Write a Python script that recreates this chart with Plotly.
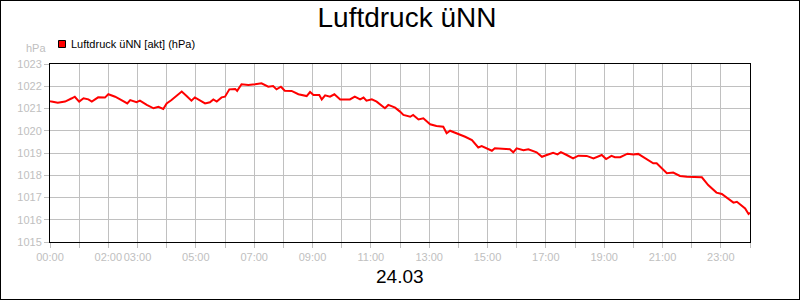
import plotly.graph_objects as go

# ---- data (minutes after midnight, 24.03) ----
minutes = [0, 3, 16, 31, 45, 51, 60, 69, 79, 86, 99, 113, 120, 134, 147, 159, 165, 178, 185, 199,
           213, 223, 233, 240, 250, 257, 271, 281, 291, 298, 309, 319, 329, 336, 343, 353, 360, 369,
           381, 385, 394, 408, 422, 435, 449, 459, 466, 475, 483, 497, 511, 528, 535, 542, 554, 559,
           566, 576, 585, 597, 617, 627, 638, 645, 651, 662, 672, 679, 689, 696, 710, 720, 727, 741,
           747, 758, 768, 782, 795, 809, 816, 823, 837, 854, 868, 881, 888, 902, 909, 915, 932, 946,
           953, 960, 974, 984, 1001, 1012, 1022, 1035, 1044, 1051, 1063, 1076, 1087, 1104, 1118, 1128,
           1135, 1144, 1155, 1162, 1173, 1188, 1200, 1210, 1221, 1231, 1241, 1248, 1258, 1269, 1282,
           1296, 1310, 1323, 1341, 1354, 1371, 1382, 1395, 1406, 1413, 1423, 1430, 1437, 1440]
pressure = [1021.33, 1021.31, 1021.26, 1021.31, 1021.46, 1021.53, 1021.31, 1021.46, 1021.41, 1021.31,
            1021.50, 1021.49, 1021.64, 1021.53, 1021.38, 1021.23, 1021.38, 1021.28, 1021.35, 1021.16,
            1021.01, 1021.08, 1020.98, 1021.23, 1021.38, 1021.50, 1021.76, 1021.56, 1021.35, 1021.50,
            1021.35, 1021.23, 1021.28, 1021.41, 1021.31, 1021.50, 1021.53, 1021.86, 1021.88, 1021.79,
            1022.09, 1022.06, 1022.09, 1022.13, 1021.98, 1022.01, 1021.86, 1021.98, 1021.80, 1021.79,
            1021.64, 1021.56, 1021.74, 1021.61, 1021.61, 1021.41, 1021.59, 1021.53, 1021.64, 1021.41,
            1021.41, 1021.53, 1021.41, 1021.49, 1021.35, 1021.41, 1021.31, 1021.20, 1021.01, 1021.16,
            1021.04, 1020.86, 1020.71, 1020.63, 1020.71, 1020.51, 1020.56, 1020.29, 1020.21, 1020.18,
            1019.89, 1020.00, 1019.89, 1019.73, 1019.58, 1019.25, 1019.31, 1019.17, 1019.10, 1019.21,
            1019.17, 1019.17, 1019.03, 1019.21, 1019.13, 1019.17, 1019.03, 1018.83, 1018.91, 1019.01,
            1018.94, 1019.04, 1018.91, 1018.76, 1018.88, 1018.87, 1018.76, 1018.87, 1018.91, 1018.73,
            1018.87, 1018.81, 1018.81, 1018.97, 1018.93, 1018.96, 1018.81, 1018.66, 1018.54, 1018.54,
            1018.31, 1018.09, 1018.12, 1017.97, 1017.93, 1017.93, 1017.91, 1017.56, 1017.22, 1017.16,
            1016.96, 1016.77, 1016.81, 1016.62, 1016.51, 1016.26, 1016.32]

hour_ticks = list(range(0, 25))
labeled_hours = [0, 2, 3, 5, 7, 9, 11, 13, 15, 17, 19, 21, 23]
hour_labels = [f"{h:02d}:00" if h in labeled_hours else "" for h in hour_ticks]
y_ticks = list(range(1015, 1024))

title_text = "Luftdruck üNN"
series_name = "Luftdruck üNN [akt] (hPa)"
unit_text = "hPa"
date_text = "24.03"

hours = [m / 60 for m in minutes]

GRAY = "#c0c0c0"
FONT = "Liberation Sans, Arial, sans-serif"

fig = go.Figure()
fig.add_trace(go.Scatter(x=hours, y=pressure, mode="lines",
                         line=dict(color="#ff0000", width=2),
                         name=series_name, showlegend=False))

W, H = 800, 300
L, R, T, B = 50, 50, 64, 58
pw, ph = W - L - R, H - T - B

def px_x(p):
    return (p - L) / pw

def px_y(p):
    return (H - B - p) / ph

fig.update_layout(
    width=W, height=H,
    margin=dict(l=L, r=R, t=T, b=B, pad=0),
    paper_bgcolor="white", plot_bgcolor="white",
    font=dict(family=FONT, size=11, color=GRAY),
    title=dict(text=title_text, x=407 / W, xanchor="center",
               y=1 - 17 / H, yanchor="middle",
               font=dict(family=FONT, size=28, color="black")),
    showlegend=False,
    xaxis=dict(range=[0, 24], tickmode="array", tickvals=hour_ticks, ticktext=hour_labels,
               showgrid=True, gridcolor=GRAY, gridwidth=1,
               ticks="outside", ticklen=5, tickcolor=GRAY, tickwidth=1,
               showline=True, linecolor="black", linewidth=1, mirror=True,
               zeroline=False, tickangle=0,
               tickfont=dict(family=FONT, size=11, color=GRAY)),
    yaxis=dict(range=[1015, 1023], tickmode="array", tickvals=y_ticks,
               ticktext=[str(v) for v in y_ticks],
               showgrid=True, gridcolor=GRAY, gridwidth=1,
               ticks="outside", ticklen=5, tickcolor=GRAY, tickwidth=1,
               showline=True, linecolor="black", linewidth=1, mirror=True,
               zeroline=False,
               tickfont=dict(family=FONT, size=11, color=GRAY)),
)

# outer frame around the whole picture
fig.add_shape(type="rect", xref="paper", yref="paper",
              x0=px_x(0), x1=px_x(W), y0=px_y(H), y1=px_y(0),
              line=dict(color="black", width=2), fillcolor="rgba(0,0,0,0)", layer="above")

# legend swatch + label
fig.add_shape(type="rect", xref="paper", yref="paper",
              x0=px_x(58.5), x1=px_x(65.5), y0=px_y(47.5), y1=px_y(40.5),
              line=dict(color="black", width=1), fillcolor="#ff0000")
fig.add_annotation(text=series_name, xref="paper", yref="paper",
                   x=px_x(69), y=px_y(44), xanchor="left", yanchor="middle",
                   showarrow=False, font=dict(family=FONT, size=11, color="black"))

# unit label
fig.add_annotation(text=unit_text, xref="paper", yref="paper",
                   x=px_x(48), y=px_y(48), xanchor="right", yanchor="middle",
                   showarrow=False, font=dict(family=FONT, size=11, color=GRAY))

# date label
fig.add_annotation(text=date_text, xref="paper", yref="paper",
                   x=px_x(400), y=px_y(276), xanchor="center", yanchor="middle",
                   showarrow=False, font=dict(family=FONT, size=19, color="black"))

fig.write_html("out.html")
